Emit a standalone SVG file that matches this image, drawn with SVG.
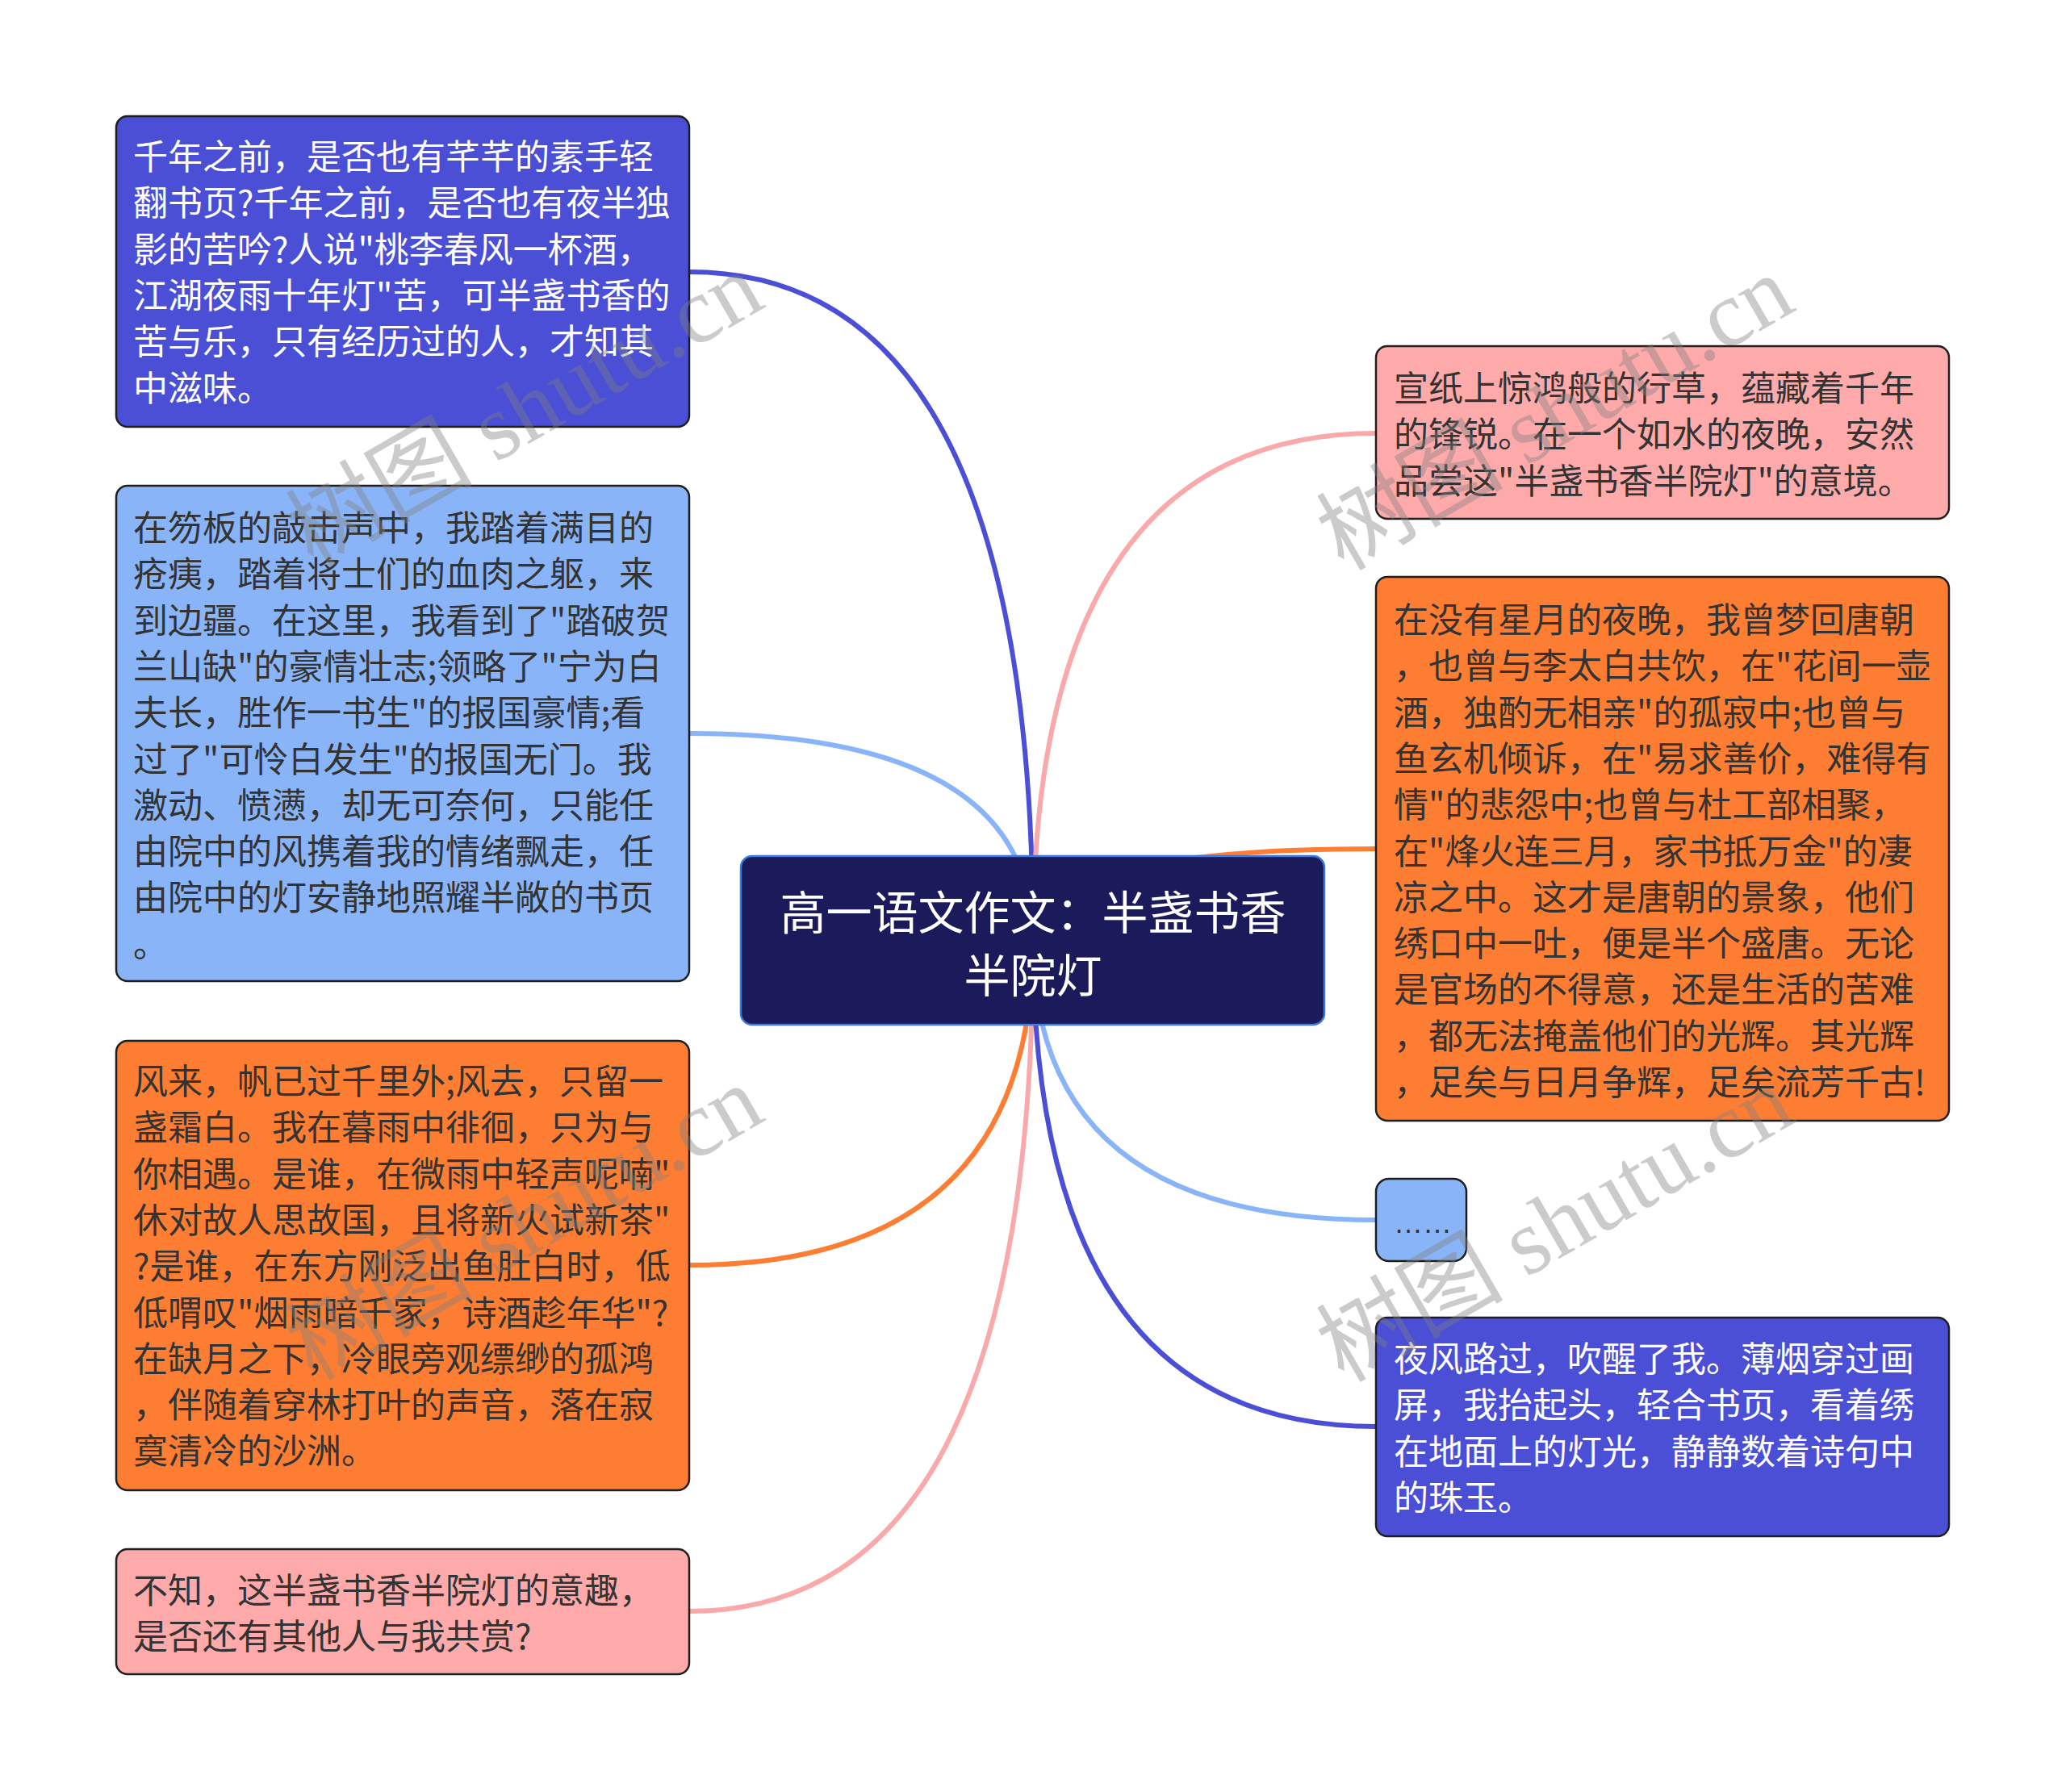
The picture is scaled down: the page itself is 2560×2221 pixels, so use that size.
<svg xmlns="http://www.w3.org/2000/svg" width="2560" height="2221" viewBox="0 0 2560 2221">
<style>
.t{font-family:"Noto Sans CJK SC","Noto Sans",sans-serif;font-size:43px;dominant-baseline:central}
.w{fill:#ffffff}
.d{fill:#333333}
.box{stroke:#1e1e1e;stroke-width:2.5}
.c{fill:none;stroke-width:6;stroke-linecap:round}
.wm{font-family:"Liberation Serif","Noto Sans CJK SC",serif;font-size:116px;fill:#808080;opacity:0.4}
</style>
<rect width="2560" height="2221" fill="#ffffff"/>
<g id="connectors">
<path class="c" stroke="#4a4fd6" d="M1280 1165 Q1280 337 854 337"/>
<path class="c" stroke="#8ab4f8" d="M1280 1165 Q1280 909 854 909"/>
<path class="c" stroke="#fd7e33" d="M1280 1165 Q1280 1568 854 1568"/>
<path class="c" stroke="#f9a9a9" d="M1280 1165 Q1280 1997 854 1997"/>
<path class="c" stroke="#f9a9a9" d="M1280 1165 Q1280 537 1705 537"/>
<path class="c" stroke="#fd7e33" d="M1280 1165 Q1280 1052 1705 1052"/>
<path class="c" stroke="#8ab4f8" d="M1280 1165 Q1280 1512 1705 1512"/>
<path class="c" stroke="#4a4fd6" d="M1280 1165 Q1280 1768 1705 1768"/>
</g>
<g id="root">
<rect x="918" y="1061" width="723" height="209" rx="14" fill="#1b1a5a" stroke="#3b78e0" stroke-width="2.5"/>
<text class="t w" style="font-size:57px" text-anchor="middle"><tspan x="1280" y="1127">高一语文作文：半盏书香</tspan><tspan x="1280" y="1205">半院灯</tspan></text>
</g>
<g id="node-l1">
<rect class="box" x="144" y="144" width="710" height="385" rx="14" fill="#4a4fd6"/>
<text class="t w"><tspan x="165" y="191">千年之前，是否也有芊芊的素手轻</tspan><tspan x="165" y="248.3">翻书页?千年之前，是否也有夜半独</tspan><tspan x="165" y="305.6">影的苦吟?人说"桃李春风一杯酒，</tspan><tspan x="165" y="362.9">江湖夜雨十年灯"苦，可半盏书香的</tspan><tspan x="165" y="420.2">苦与乐，只有经历过的人，才知其</tspan><tspan x="165" y="477.5">中滋味。</tspan></text>
</g>
<g id="node-l2">
<rect class="box" x="144" y="602" width="710" height="614" rx="14" fill="#8ab4f8"/>
<text class="t d"><tspan x="165" y="651">在笏板的敲击声中，我踏着满目的</tspan><tspan x="165" y="708.3">疮痍，踏着将士们的血肉之躯，来</tspan><tspan x="165" y="765.6">到边疆。在这里，我看到了"踏破贺</tspan><tspan x="165" y="822.9">兰山缺"的豪情壮志;领略了"宁为白</tspan><tspan x="165" y="880.2">夫长，胜作一书生"的报国豪情;看</tspan><tspan x="165" y="937.5">过了"可怜白发生"的报国无门。我</tspan><tspan x="165" y="994.8">激动、愤懑，却无可奈何，只能任</tspan><tspan x="165" y="1052.1">由院中的风携着我的情绪飘走，任</tspan><tspan x="165" y="1109.4">由院中的灯安静地照耀半敞的书页</tspan><tspan x="165" y="1166.7">。</tspan></text>
</g>
<g id="node-l3">
<rect class="box" x="144" y="1290" width="710" height="557" rx="14" fill="#fd7e33"/>
<text class="t d"><tspan x="165" y="1337">风来，帆已过千里外;风去，只留一</tspan><tspan x="165" y="1394.3">盏霜白。我在暮雨中徘徊，只为与</tspan><tspan x="165" y="1451.6">你相遇。是谁，在微雨中轻声呢喃"</tspan><tspan x="165" y="1508.9">休对故人思故国，且将新火试新茶"</tspan><tspan x="165" y="1566.2">?是谁，在东方刚泛出鱼肚白时，低</tspan><tspan x="165" y="1623.5">低喟叹"烟雨暗千家，诗酒趁年华"?</tspan><tspan x="165" y="1680.8">在缺月之下，冷眼旁观缥缈的孤鸿</tspan><tspan x="165" y="1738.1">，伴随着穿林打叶的声音，落在寂</tspan><tspan x="165" y="1795.4">寞清冷的沙洲。</tspan></text>
</g>
<g id="node-l4">
<rect class="box" x="144" y="1920" width="710" height="155" rx="14" fill="#ffaaaa"/>
<text class="t d"><tspan x="165" y="1968">不知，这半盏书香半院灯的意趣，</tspan><tspan x="165" y="2025.3">是否还有其他人与我共赏?</tspan></text>
</g>
<g id="node-r1">
<rect class="box" x="1705" y="429" width="710" height="214" rx="14" fill="#ffaaaa"/>
<text class="t d"><tspan x="1727" y="478">宣纸上惊鸿般的行草，蕴藏着千年</tspan><tspan x="1727" y="535.3">的锋锐。在一个如水的夜晚，安然</tspan><tspan x="1727" y="592.6">品尝这"半盏书香半院灯"的意境。</tspan></text>
</g>
<g id="node-r2">
<rect class="box" x="1705" y="715" width="710" height="674" rx="14" fill="#fd7e33"/>
<text class="t d"><tspan x="1727" y="765">在没有星月的夜晚，我曾梦回唐朝</tspan><tspan x="1727" y="822.3">，也曾与李太白共饮，在"花间一壶</tspan><tspan x="1727" y="879.6">酒，独酌无相亲"的孤寂中;也曾与</tspan><tspan x="1727" y="936.9">鱼玄机倾诉，在"易求善价，难得有</tspan><tspan x="1727" y="994.2">情"的悲怨中;也曾与杜工部相聚，</tspan><tspan x="1727" y="1051.5">在"烽火连三月，家书抵万金"的凄</tspan><tspan x="1727" y="1108.8">凉之中。这才是唐朝的景象，他们</tspan><tspan x="1727" y="1166.1">绣口中一吐，便是半个盛唐。无论</tspan><tspan x="1727" y="1223.4">是官场的不得意，还是生活的苦难</tspan><tspan x="1727" y="1280.7">，都无法掩盖他们的光辉。其光辉</tspan><tspan x="1727" y="1338">，足矣与日月争辉，足矣流芳千古!</tspan></text>
</g>
<g id="node-r3">
<rect class="box" x="1705" y="1461" width="112" height="102" rx="16" fill="#8ab4f8"/>
<text x="1727" y="1528" style="font-family:'Liberation Sans',sans-serif;font-size:36px" fill="#333333">……</text>
</g>
<g id="node-r4">
<rect class="box" x="1705" y="1633" width="710" height="271" rx="14" fill="#4a4fd6"/>
<text class="t w"><tspan x="1727" y="1681">夜风路过，吹醒了我。薄烟穿过画</tspan><tspan x="1727" y="1738.3">屏，我抬起头，轻合书页，看着绣</tspan><tspan x="1727" y="1795.6">在地面上的灯光，静静数着诗句中</tspan><tspan x="1727" y="1852.9">的珠玉。</tspan></text>
</g>
<g id="watermark">
<text class="wm" transform="translate(650 508) rotate(-30)" text-anchor="middle" dominant-baseline="central">树图 shutu.cn</text>
<text class="wm" transform="translate(1927 512) rotate(-30)" text-anchor="middle" dominant-baseline="central">树图 shutu.cn</text>
<text class="wm" transform="translate(650 1516) rotate(-30)" text-anchor="middle" dominant-baseline="central">树图 shutu.cn</text>
<text class="wm" transform="translate(1927 1518) rotate(-30)" text-anchor="middle" dominant-baseline="central">树图 shutu.cn</text>
</g>
</svg>
